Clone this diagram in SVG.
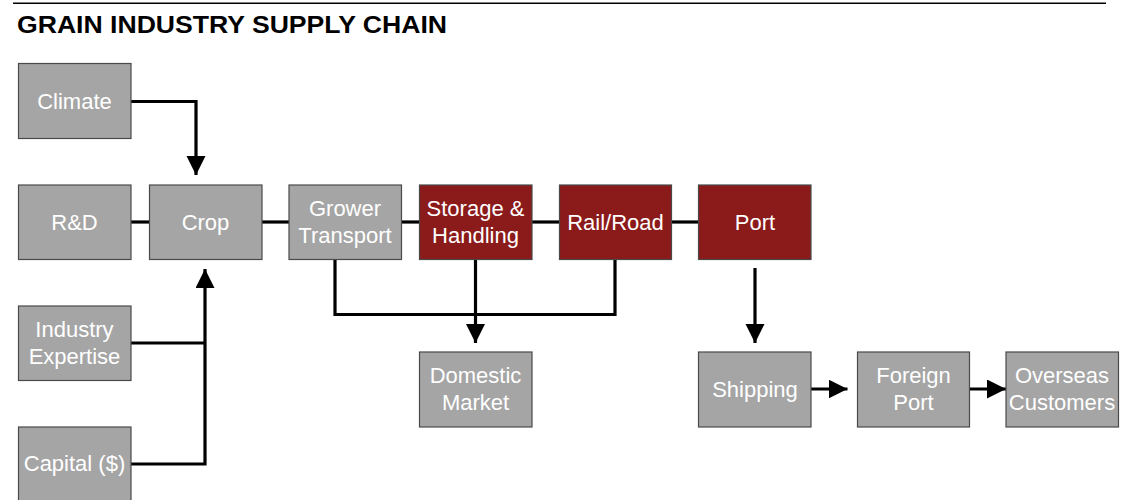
<svg xmlns="http://www.w3.org/2000/svg" width="1121" height="500" viewBox="0 0 1121 500">
<style>
.box{fill:#a5a5a5;stroke:#4a4a4a;stroke-width:1.2}
.red{fill:#8b1a1a;stroke:#4a4a4a;stroke-width:1.2}
.lbl{font-family:"Liberation Sans",Arial,sans-serif;font-size:22px;fill:#ffffff;text-anchor:middle}
.conn{fill:none;stroke:#000;stroke-width:3.2}
.title{font-family:"Liberation Sans",Arial,sans-serif;font-size:23.5px;font-weight:bold;fill:#000}
</style>
<defs>
<marker id="ah" markerUnits="userSpaceOnUse" markerWidth="20" markerHeight="20" refX="19" refY="9.5" orient="auto">
<path d="M0,0 L19,9.5 L0,19 z" fill="#000"/>
</marker>
</defs>
<rect width="1121" height="500" fill="#fff"/>
<line x1="13" y1="3.3" x2="1106" y2="3.3" stroke="#000" stroke-width="1.5"/>
<text class="title" x="17" y="33.3" textLength="430" lengthAdjust="spacingAndGlyphs">GRAIN INDUSTRY SUPPLY CHAIN</text>

<g id="connectors">
<path class="conn" d="M131,101.5 H196 V175" marker-end="url(#ah)"/>
<path class="conn" d="M131,222 H149"/>
<path class="conn" d="M262,222 H289"/>
<path class="conn" d="M402,222 H419"/>
<path class="conn" d="M532,222 H559"/>
<path class="conn" d="M672,222 H699"/>
<path class="conn" d="M335,259 V314.5 H615 V259"/>
<path class="conn" d="M475.5,259 V343" marker-end="url(#ah)"/>
<path class="conn" d="M131,343 H205"/>
<path class="conn" d="M131,464 H205 V269" marker-end="url(#ah)"/>
<path class="conn" d="M755,268 V343" marker-end="url(#ah)"/>
<path class="conn" d="M811,389 H847.5" marker-end="url(#ah)"/>
<path class="conn" d="M969,389 H1006" marker-end="url(#ah)"/>
</g>

<g id="climate"><rect class="box" x="18.5" y="63.5" width="112.5" height="75"/><text class="lbl" x="74.5" y="108.5">Climate</text></g>
<g id="rnd"><rect class="box" x="18.5" y="185" width="112.5" height="74.5"/><text class="lbl" x="74.5" y="229.5">R&amp;D</text></g>
<g id="crop"><rect class="box" x="149.5" y="185" width="112.5" height="74.5"/><text class="lbl" x="205.5" y="229.5">Crop</text></g>
<g id="grower"><rect class="box" x="289" y="185" width="112.5" height="74.5"/><text class="lbl" x="345" y="215.7">Grower</text><text class="lbl" x="345" y="242.7">Transport</text></g>
<g id="storage"><rect class="red" x="419.5" y="185" width="112.5" height="74.5"/><text class="lbl" x="475.5" y="215.7">Storage &amp;</text><text class="lbl" x="475.5" y="242.7">Handling</text></g>
<g id="railroad"><rect class="red" x="559.5" y="185" width="112" height="74.5"/><text class="lbl" x="615.5" y="229.5">Rail/Road</text></g>
<g id="port"><rect class="red" x="698.5" y="185" width="112.5" height="74.5"/><text class="lbl" x="755" y="229.5">Port</text></g>
<g id="industry"><rect class="box" x="18.5" y="306" width="112.5" height="74.5"/><text class="lbl" x="74.5" y="336.5">Industry</text><text class="lbl" x="74.5" y="363.5">Expertise</text></g>
<g id="capital"><rect class="box" x="18.5" y="427" width="112.5" height="80"/><text class="lbl" x="74.5" y="470.5">Capital ($)</text></g>
<g id="domestic"><rect class="box" x="419.5" y="352" width="112.5" height="75"/><text class="lbl" x="475.5" y="382.7">Domestic</text><text class="lbl" x="475.5" y="410">Market</text></g>
<g id="shipping"><rect class="box" x="698.5" y="352" width="112.5" height="75"/><text class="lbl" x="755" y="396.5">Shipping</text></g>
<g id="foreign"><rect class="box" x="857.5" y="352" width="112" height="75"/><text class="lbl" x="913.5" y="382.7">Foreign</text><text class="lbl" x="913.5" y="410">Port</text></g>
<g id="overseas"><rect class="box" x="1006" y="352" width="112.5" height="75"/><text class="lbl" x="1062" y="382.7">Overseas</text><text class="lbl" x="1062" y="410">Customers</text></g>
</svg>
